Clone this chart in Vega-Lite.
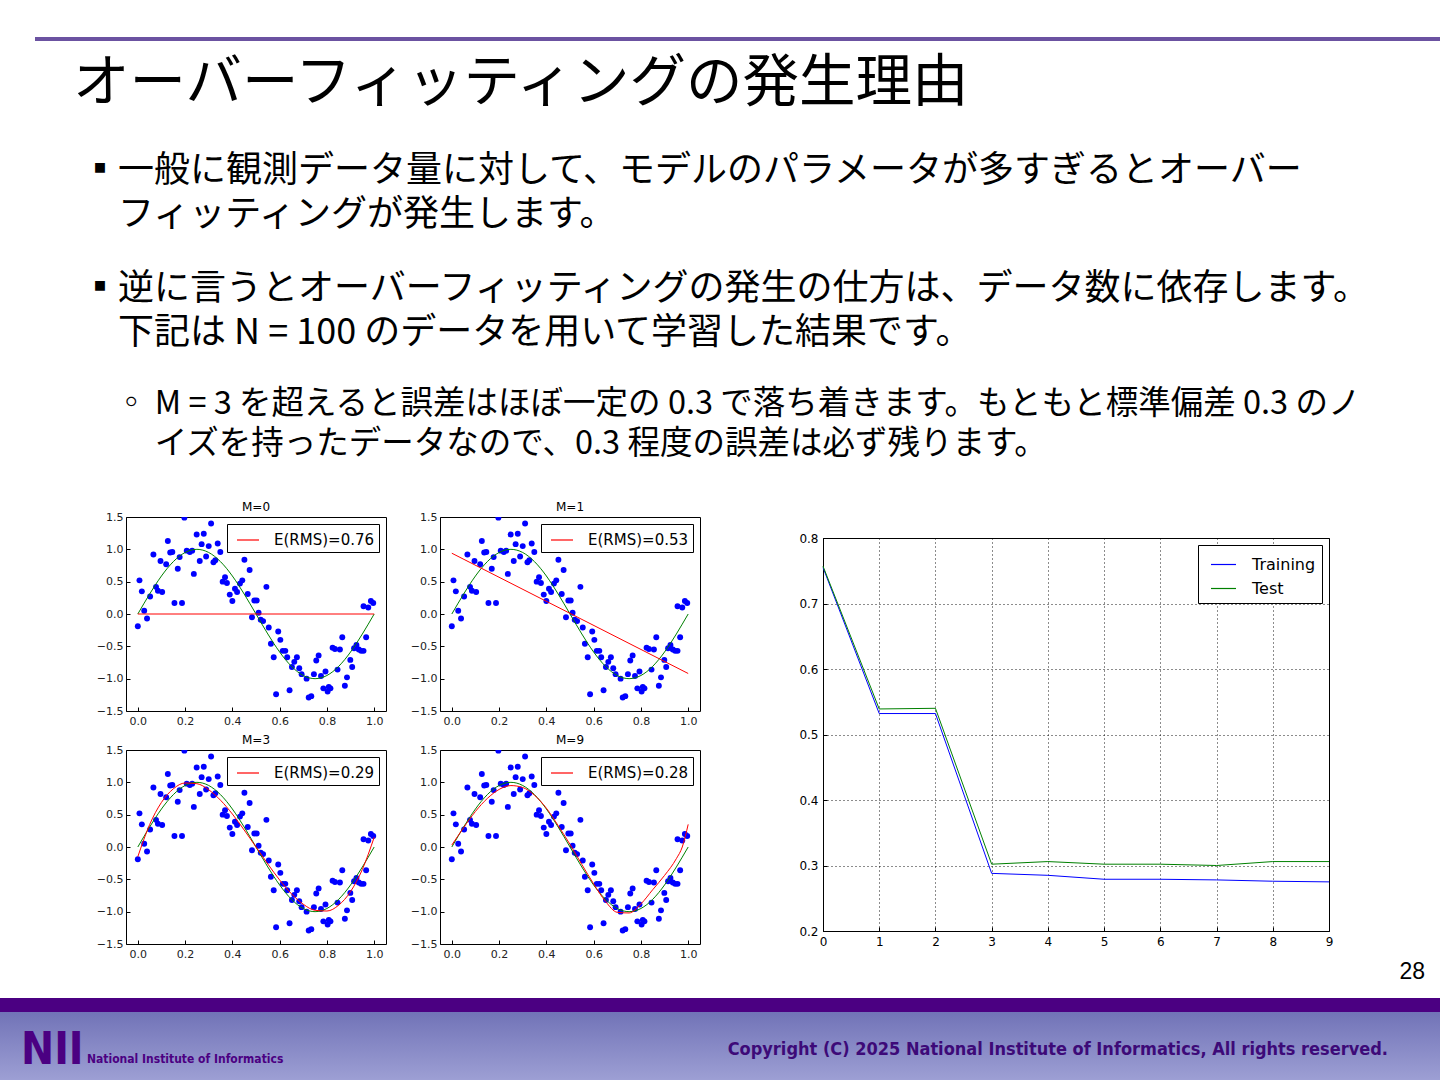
{
"$schema": "https://vega.github.io/schema/vega-lite/v6.json",
"padding": {"top": 37, "left": 0, "right": 0, "bottom": 0},
"background": "#FFFFFF",
"spacing": 0,
"config": {"view": {"stroke": null}, "font": "DejaVu Sans", "title": {"font": "Noto Sans CJK JP", "fontWeight": "normal", "color": "#000000", "anchor": "start"}},
"resolve": {"scale": {"color": "independent"}, "legend": {"color": "independent"}},
"datasets": {
"pts": [{"x":0.000,"y":-0.19},{"x":0.007,"y":0.52},{"x":0.017,"y":0.35},{"x":0.027,"y":0.05},{"x":0.039,"y":-0.07},{"x":0.052,"y":0.27},{"x":0.066,"y":0.92},{"x":0.077,"y":0.42},{"x":0.085,"y":0.36},{"x":0.096,"y":0.82},{"x":0.103,"y":0.34},{"x":0.120,"y":0.77},{"x":0.127,"y":1.13},{"x":0.137,"y":0.95},{"x":0.146,"y":0.96},{"x":0.155,"y":0.17},{"x":0.169,"y":0.70},{"x":0.177,"y":0.88},{"x":0.187,"y":0.17},{"x":0.197,"y":1.49},{"x":0.207,"y":0.98},{"x":0.220,"y":0.96},{"x":0.230,"y":0.98},{"x":0.237,"y":0.62},{"x":0.249,"y":1.23},{"x":0.262,"y":0.82},{"x":0.270,"y":1.08},{"x":0.279,"y":1.24},{"x":0.289,"y":0.89},{"x":0.300,"y":1.05},{"x":0.310,"y":1.40},{"x":0.320,"y":0.80},{"x":0.328,"y":0.83},{"x":0.338,"y":1.09},{"x":0.349,"y":0.96},{"x":0.359,"y":0.50},{"x":0.369,"y":0.57},{"x":0.377,"y":0.48},{"x":0.389,"y":0.30},{"x":0.400,"y":0.20},{"x":0.411,"y":0.39},{"x":0.420,"y":0.34},{"x":0.432,"y":0.47},{"x":0.442,"y":0.52},{"x":0.451,"y":0.84},{"x":0.465,"y":0.31},{"x":0.473,"y":0.68},{"x":0.483,"y":-0.05},{"x":0.493,"y":0.21},{"x":0.503,"y":0.21},{"x":0.511,"y":0.02},{"x":0.520,"y":-0.09},{"x":0.530,"y":-0.11},{"x":0.544,"y":0.42},{"x":0.554,"y":-0.21},{"x":0.563,"y":-0.46},{"x":0.575,"y":-0.67},{"x":0.585,"y":-1.24},{"x":0.594,"y":-0.27},{"x":0.603,"y":-0.40},{"x":0.613,"y":-0.57},{"x":0.624,"y":-0.57},{"x":0.632,"y":-0.67},{"x":0.642,"y":-1.18},{"x":0.652,"y":-0.82},{"x":0.662,"y":-0.74},{"x":0.673,"y":-0.67},{"x":0.683,"y":-0.84},{"x":0.693,"y":-0.93},{"x":0.714,"y":-1.00},{"x":0.723,"y":-1.29},{"x":0.734,"y":-1.27},{"x":0.745,"y":-0.93},{"x":0.755,"y":-0.72},{"x":0.765,"y":-0.64},{"x":0.775,"y":-0.96},{"x":0.785,"y":-1.15},{"x":0.794,"y":-0.89},{"x":0.803,"y":-1.20},{"x":0.808,"y":-1.13},{"x":0.815,"y":-1.15},{"x":0.824,"y":-0.52},{"x":0.834,"y":-0.54},{"x":0.845,"y":-0.86},{"x":0.855,"y":-0.55},{"x":0.865,"y":-0.36},{"x":0.876,"y":-1.11},{"x":0.885,"y":-0.98},{"x":0.899,"y":-0.71},{"x":0.907,"y":-0.82},{"x":0.915,"y":-0.53},{"x":0.925,"y":-0.48},{"x":0.935,"y":-0.55},{"x":0.945,"y":-0.57},{"x":0.955,"y":-0.57},{"x":0.966,"y":-0.36},{"x":0.955,"y":0.12},{"x":0.975,"y":0.10},{"x":0.986,"y":0.20},{"x":0.996,"y":0.17}],
"truth": [{"x":0,"y":0},{"x":0.025,"y":0.1564},{"x":0.05,"y":0.309},{"x":0.075,"y":0.454},{"x":0.1,"y":0.5878},{"x":0.125,"y":0.7071},{"x":0.15,"y":0.809},{"x":0.175,"y":0.891},{"x":0.2,"y":0.9511},{"x":0.225,"y":0.9877},{"x":0.25,"y":1},{"x":0.275,"y":0.9877},{"x":0.3,"y":0.9511},{"x":0.325,"y":0.891},{"x":0.35,"y":0.809},{"x":0.375,"y":0.7071},{"x":0.4,"y":0.5878},{"x":0.425,"y":0.454},{"x":0.45,"y":0.309},{"x":0.475,"y":0.1564},{"x":0.5,"y":0},{"x":0.525,"y":-0.1564},{"x":0.55,"y":-0.309},{"x":0.575,"y":-0.454},{"x":0.6,"y":-0.5878},{"x":0.625,"y":-0.7071},{"x":0.65,"y":-0.809},{"x":0.675,"y":-0.891},{"x":0.7,"y":-0.9511},{"x":0.725,"y":-0.9877},{"x":0.75,"y":-1},{"x":0.775,"y":-0.9877},{"x":0.8,"y":-0.9511},{"x":0.825,"y":-0.891},{"x":0.85,"y":-0.809},{"x":0.875,"y":-0.7071},{"x":0.9,"y":-0.5878},{"x":0.925,"y":-0.454},{"x":0.95,"y":-0.309},{"x":0.975,"y":-0.1564},{"x":1,"y":0}],
"fit0": [{"x":0,"y":0,"label":"E(RMS)=0.76"},{"x":1,"y":0,"label":"E(RMS)=0.76"}],
"fit1": [{"x":0,"y":0.94,"label":"E(RMS)=0.53"},{"x":1,"y":-0.92,"label":"E(RMS)=0.53"}],
"fit3": [{"x":0,"y":-0.15,"label":"E(RMS)=0.29"},{"x":0.05,"y":0.346,"label":"E(RMS)=0.29"},{"x":0.1,"y":0.69,"label":"E(RMS)=0.29"},{"x":0.15,"y":0.899,"label":"E(RMS)=0.29"},{"x":0.2,"y":0.99,"label":"E(RMS)=0.29"},{"x":0.25,"y":0.979,"label":"E(RMS)=0.29"},{"x":0.3,"y":0.885,"label":"E(RMS)=0.29"},{"x":0.35,"y":0.723,"label":"E(RMS)=0.29"},{"x":0.4,"y":0.51,"label":"E(RMS)=0.29"},{"x":0.45,"y":0.263,"label":"E(RMS)=0.29"},{"x":0.5,"y":0,"label":"E(RMS)=0.29"},{"x":0.55,"y":-0.263,"label":"E(RMS)=0.29"},{"x":0.6,"y":-0.51,"label":"E(RMS)=0.29"},{"x":0.65,"y":-0.723,"label":"E(RMS)=0.29"},{"x":0.7,"y":-0.885,"label":"E(RMS)=0.29"},{"x":0.75,"y":-0.979,"label":"E(RMS)=0.29"},{"x":0.8,"y":-0.99,"label":"E(RMS)=0.29"},{"x":0.85,"y":-0.899,"label":"E(RMS)=0.29"},{"x":0.9,"y":-0.69,"label":"E(RMS)=0.29"},{"x":0.95,"y":-0.346,"label":"E(RMS)=0.29"},{"x":1,"y":0.15,"label":"E(RMS)=0.29"}],
"fit9": [{"x":0,"y":0.03,"label":"E(RMS)=0.28"},{"x":0.05,"y":0.3,"label":"E(RMS)=0.28"},{"x":0.1,"y":0.55,"label":"E(RMS)=0.28"},{"x":0.15,"y":0.75,"label":"E(RMS)=0.28"},{"x":0.2,"y":0.89,"label":"E(RMS)=0.28"},{"x":0.25,"y":0.95,"label":"E(RMS)=0.28"},{"x":0.3,"y":0.92,"label":"E(RMS)=0.28"},{"x":0.35,"y":0.8,"label":"E(RMS)=0.28"},{"x":0.4,"y":0.6,"label":"E(RMS)=0.28"},{"x":0.45,"y":0.33,"label":"E(RMS)=0.28"},{"x":0.5,"y":0.04,"label":"E(RMS)=0.28"},{"x":0.55,"y":-0.27,"label":"E(RMS)=0.28"},{"x":0.6,"y":-0.57,"label":"E(RMS)=0.28"},{"x":0.65,"y":-0.84,"label":"E(RMS)=0.28"},{"x":0.7,"y":-1.01,"label":"E(RMS)=0.28"},{"x":0.75,"y":-1.02,"label":"E(RMS)=0.28"},{"x":0.8,"y":-0.88,"label":"E(RMS)=0.28"},{"x":0.85,"y":-0.66,"label":"E(RMS)=0.28"},{"x":0.9,"y":-0.44,"label":"E(RMS)=0.28"},{"x":0.95,"y":-0.18,"label":"E(RMS)=0.28"},{"x":0.975,"y":0.0,"label":"E(RMS)=0.28"},{"x":1,"y":0.35,"label":"E(RMS)=0.28"}],
"err": [{"M":0,"rms":0.755,"set":"Training"},{"M":1,"rms":0.532,"set":"Training"},{"M":2,"rms":0.532,"set":"Training"},{"M":3,"rms":0.288,"set":"Training"},{"M":4,"rms":0.285,"set":"Training"},{"M":5,"rms":0.279,"set":"Training"},{"M":6,"rms":0.279,"set":"Training"},{"M":7,"rms":0.278,"set":"Training"},{"M":8,"rms":0.276,"set":"Training"},{"M":9,"rms":0.275,"set":"Training"},{"M":0,"rms":0.757,"set":"Test"},{"M":1,"rms":0.539,"set":"Test"},{"M":2,"rms":0.540,"set":"Test"},{"M":3,"rms":0.302,"set":"Test"},{"M":4,"rms":0.306,"set":"Test"},{"M":5,"rms":0.302,"set":"Test"},{"M":6,"rms":0.302,"set":"Test"},{"M":7,"rms":0.300,"set":"Test"},{"M":8,"rms":0.306,"set":"Test"},{"M":9,"rms":0.306,"set":"Test"}]
},
"vconcat": [
{"hconcat": [
  {"width": 35, "height": 18, "data": {"values": [{}]}, "mark": {"type": "rect", "opacity": 0}, "encoding": {}},
  {"width": 1405, "height": 4, "data": {"values": [{}]}, "mark": {"type": "rect", "color": "#6B52A1"}, "encoding": {}}
], "spacing": 0},
{"title": {"text": "オーバーフィッティングの発生理由", "fontSize": 56.5, "dx": 73, "offset": 41},
 "resolve": {"scale": {"color": "independent"}, "legend": {"color": "independent"}},
 "spacing": 0,
 "vconcat": [
 {"title": {"text": ["▪一般に観測データ量に対して、モデルのパラメータが多すぎるとオーバー", "\u200b\u3000フィッティングが発生します。"], "fontSize": 36, "lineHeight": 44, "dx": 82, "offset": 37},
  "resolve": {"scale": {"color": "independent"}, "legend": {"color": "independent"}},
  "spacing": 0,
  "vconcat": [
  {"title": {"text": ["▪逆に言うとオーバーフィッティングの発生の仕方は、データ数に依存します。", "\u200b\u3000下記は N = 100 のデータを用いて学習した結果です。"], "fontSize": 36, "lineHeight": 44, "dx": 82, "offset": 36},
   "resolve": {"scale": {"color": "independent"}, "legend": {"color": "independent"}},
   "spacing": 0,
   "vconcat": [
   {"title": {"text": ["◦\u00a0M = 3 を超えると誤差はほぼ一定の 0.3 で落ち着きます。もともと標準偏差 0.3 のノ", "\u200b\u3000\u00a0イズを持ったデータなので、0.3 程度の誤差は必ず残ります。"], "fontSize": 32.5, "lineHeight": 40, "dx": 115, "offset": 40},
    "resolve": {"scale": {"color": "independent"}, "legend": {"color": "independent"}},
    "spacing": 0,
    "hconcat": [
     {"width": 95, "height": 1, "data": {"values": [{}]}, "mark": {"type": "rect", "opacity": 0}, "encoding": {}},
     {"spacing": 6,
      "resolve": {"scale": {"color": "independent"}, "legend": {"color": "independent"}},
      "vconcat": [
      {"spacing": 22, "resolve": {"scale": {"color": "independent"}, "legend": {"color": "independent"}},
       "hconcat": [
       {"width": 260, "height": 194, "view": {"stroke": "#000000", "strokeWidth": 1},
        "title": {"text": "M=0", "font": "DejaVu Sans", "fontSize": 12, "anchor": "middle", "offset": -3},
        "encoding": {
         "x": {"field": "x", "type": "quantitative", "scale": {"domain": [-0.05, 1.05], "nice": false, "zero": false}, "axis": {"values": [0, 0.2, 0.4, 0.6, 0.8, 1], "format": ".1f", "title": null, "grid": false, "domain": false, "tickColor": "#000000", "tickSize": -4, "labelFontSize": 11, "labelColor": "#222222", "labelPadding": 8.5, "labelFlush": false, "labelOverlap": false}},
         "y": {"field": "y", "type": "quantitative", "scale": {"domain": [-1.5, 1.5], "nice": false, "zero": false}, "axis": {"values": [-1.5, -1, -0.5, 0, 0.5, 1, 1.5], "format": ".1f", "title": null, "grid": false, "domain": false, "tickColor": "#000000", "tickSize": -4, "labelFontSize": 11, "labelColor": "#222222", "labelPadding": 7, "labelFlush": false, "labelOverlap": false}}},
        "layer": [
         {"data": {"name": "pts"}, "mark": {"type": "circle", "color": "#0000FF", "opacity": 1, "size": 35, "clip": true}},
         {"data": {"name": "truth"}, "mark": {"type": "line", "color": "#008000", "strokeWidth": 1, "interpolate": "monotone"}},
         {"data": {"name": "fit0"}, "mark": {"type": "line", "strokeWidth": 1}, "encoding": {"color": {"field": "label", "type": "nominal", "scale": {"range": ["#FF0000"]}, "legend": {"title": null, "orient": "top-right", "offset": 7, "symbolType": "stroke", "symbolSize": 484, "symbolStrokeWidth": 1.2, "symbolStrokeColor": "#FF0000", "symbolOffset": 5, "labelFontSize": 15, "labelColor": "#000000", "labelOffset": 14, "strokeColor": "#000000", "fillColor": "#FFFFFF", "padding": 4, "cornerRadius": 0}}}}
        ]},
       {"width": 260, "height": 194, "view": {"stroke": "#000000", "strokeWidth": 1},
        "title": {"text": "M=1", "font": "DejaVu Sans", "fontSize": 12, "anchor": "middle", "offset": -3},
        "encoding": {
         "x": {"field": "x", "type": "quantitative", "scale": {"domain": [-0.05, 1.05], "nice": false, "zero": false}, "axis": {"values": [0, 0.2, 0.4, 0.6, 0.8, 1], "format": ".1f", "title": null, "grid": false, "domain": false, "tickColor": "#000000", "tickSize": -4, "labelFontSize": 11, "labelColor": "#222222", "labelPadding": 8.5, "labelFlush": false, "labelOverlap": false}},
         "y": {"field": "y", "type": "quantitative", "scale": {"domain": [-1.5, 1.5], "nice": false, "zero": false}, "axis": {"values": [-1.5, -1, -0.5, 0, 0.5, 1, 1.5], "format": ".1f", "title": null, "grid": false, "domain": false, "tickColor": "#000000", "tickSize": -4, "labelFontSize": 11, "labelColor": "#222222", "labelPadding": 7, "labelFlush": false, "labelOverlap": false}}},
        "layer": [
         {"data": {"name": "pts"}, "mark": {"type": "circle", "color": "#0000FF", "opacity": 1, "size": 35, "clip": true}},
         {"data": {"name": "truth"}, "mark": {"type": "line", "color": "#008000", "strokeWidth": 1, "interpolate": "monotone"}},
         {"data": {"name": "fit1"}, "mark": {"type": "line", "strokeWidth": 1}, "encoding": {"color": {"field": "label", "type": "nominal", "scale": {"range": ["#FF0000"]}, "legend": {"title": null, "orient": "top-right", "offset": 7, "symbolType": "stroke", "symbolSize": 484, "symbolStrokeWidth": 1.2, "symbolStrokeColor": "#FF0000", "symbolOffset": 5, "labelFontSize": 15, "labelColor": "#000000", "labelOffset": 14, "strokeColor": "#000000", "fillColor": "#FFFFFF", "padding": 4, "cornerRadius": 0}}}}
        ]}
       ]},
      {"spacing": 22, "resolve": {"scale": {"color": "independent"}, "legend": {"color": "independent"}},
       "hconcat": [
       {"width": 260, "height": 194, "view": {"stroke": "#000000", "strokeWidth": 1},
        "title": {"text": "M=3", "font": "DejaVu Sans", "fontSize": 12, "anchor": "middle", "offset": -3},
        "encoding": {
         "x": {"field": "x", "type": "quantitative", "scale": {"domain": [-0.05, 1.05], "nice": false, "zero": false}, "axis": {"values": [0, 0.2, 0.4, 0.6, 0.8, 1], "format": ".1f", "title": null, "grid": false, "domain": false, "tickColor": "#000000", "tickSize": -4, "labelFontSize": 11, "labelColor": "#222222", "labelPadding": 8.5, "labelFlush": false, "labelOverlap": false}},
         "y": {"field": "y", "type": "quantitative", "scale": {"domain": [-1.5, 1.5], "nice": false, "zero": false}, "axis": {"values": [-1.5, -1, -0.5, 0, 0.5, 1, 1.5], "format": ".1f", "title": null, "grid": false, "domain": false, "tickColor": "#000000", "tickSize": -4, "labelFontSize": 11, "labelColor": "#222222", "labelPadding": 7, "labelFlush": false, "labelOverlap": false}}},
        "layer": [
         {"data": {"name": "pts"}, "mark": {"type": "circle", "color": "#0000FF", "opacity": 1, "size": 35, "clip": true}},
         {"data": {"name": "truth"}, "mark": {"type": "line", "color": "#008000", "strokeWidth": 1, "interpolate": "monotone"}},
         {"data": {"name": "fit3"}, "mark": {"type": "line", "strokeWidth": 1, "interpolate": "monotone"}, "encoding": {"color": {"field": "label", "type": "nominal", "scale": {"range": ["#FF0000"]}, "legend": {"title": null, "orient": "top-right", "offset": 7, "symbolType": "stroke", "symbolSize": 484, "symbolStrokeWidth": 1.2, "symbolStrokeColor": "#FF0000", "symbolOffset": 5, "labelFontSize": 15, "labelColor": "#000000", "labelOffset": 14, "strokeColor": "#000000", "fillColor": "#FFFFFF", "padding": 4, "cornerRadius": 0}}}}
        ]},
       {"width": 260, "height": 194, "view": {"stroke": "#000000", "strokeWidth": 1},
        "title": {"text": "M=9", "font": "DejaVu Sans", "fontSize": 12, "anchor": "middle", "offset": -3},
        "encoding": {
         "x": {"field": "x", "type": "quantitative", "scale": {"domain": [-0.05, 1.05], "nice": false, "zero": false}, "axis": {"values": [0, 0.2, 0.4, 0.6, 0.8, 1], "format": ".1f", "title": null, "grid": false, "domain": false, "tickColor": "#000000", "tickSize": -4, "labelFontSize": 11, "labelColor": "#222222", "labelPadding": 8.5, "labelFlush": false, "labelOverlap": false}},
         "y": {"field": "y", "type": "quantitative", "scale": {"domain": [-1.5, 1.5], "nice": false, "zero": false}, "axis": {"values": [-1.5, -1, -0.5, 0, 0.5, 1, 1.5], "format": ".1f", "title": null, "grid": false, "domain": false, "tickColor": "#000000", "tickSize": -4, "labelFontSize": 11, "labelColor": "#222222", "labelPadding": 7, "labelFlush": false, "labelOverlap": false}}},
        "layer": [
         {"data": {"name": "pts"}, "mark": {"type": "circle", "color": "#0000FF", "opacity": 1, "size": 35, "clip": true}},
         {"data": {"name": "truth"}, "mark": {"type": "line", "color": "#008000", "strokeWidth": 1, "interpolate": "monotone"}},
         {"data": {"name": "fit9"}, "mark": {"type": "line", "strokeWidth": 1, "interpolate": "monotone"}, "encoding": {"color": {"field": "label", "type": "nominal", "scale": {"range": ["#FF0000"]}, "legend": {"title": null, "orient": "top-right", "offset": 7, "symbolType": "stroke", "symbolSize": 484, "symbolStrokeWidth": 1.2, "symbolStrokeColor": "#FF0000", "symbolOffset": 5, "labelFontSize": 15, "labelColor": "#000000", "labelOffset": 14, "strokeColor": "#000000", "fillColor": "#FFFFFF", "padding": 4, "cornerRadius": 0}}}}
        ]}
       ]}
      ]},
     {"width": 97, "height": 1, "data": {"values": [{}]}, "mark": {"type": "rect", "opacity": 0}, "encoding": {}},
     {"spacing": 0, "resolve": {"scale": {"color": "independent"}, "legend": {"color": "independent"}},
      "vconcat": [
      {"width": 1, "height": 14, "data": {"values": [{}]}, "mark": {"type": "rect", "opacity": 0}, "encoding": {}},
      {"width": 506, "height": 393, "view": {"stroke": "#000000", "strokeWidth": 1},
       "data": {"name": "err"},
       "mark": {"type": "line", "strokeWidth": 1},
       "encoding": {
        "x": {"field": "M", "type": "quantitative", "scale": {"domain": [0, 9], "nice": false, "zero": false}, "axis": {"values": [0,1,2,3,4,5,6,7,8,9], "format": "d", "title": null, "grid": true, "gridColor": "#000000", "gridDash": [1, 3], "gridOpacity": 0.9, "domain": false, "tickColor": "#000000", "tickSize": -4, "labelFontSize": 12, "labelColor": "#000000", "labelPadding": 9, "labelFlush": false, "labelOverlap": false}},
        "y": {"field": "rms", "type": "quantitative", "scale": {"domain": [0.2, 0.8], "nice": false, "zero": false}, "axis": {"values": [0.2,0.3,0.4,0.5,0.6,0.7,0.8], "format": ".1f", "title": null, "grid": true, "gridColor": "#000000", "gridDash": [1, 3], "gridOpacity": 0.9, "domain": false, "tickColor": "#000000", "tickSize": -4, "labelFontSize": 12, "labelColor": "#000000", "labelPadding": 9, "labelFlush": false, "labelOverlap": false}},
        "color": {"field": "set", "type": "nominal", "scale": {"domain": ["Training", "Test"], "range": ["#0000FF", "#008000"]}, "legend": {"title": null, "orient": "top-right", "offset": 7, "symbolType": "stroke", "symbolSize": 625, "symbolStrokeWidth": 1.2, "symbolOffset": 6, "labelFontSize": 16, "labelColor": "#000000", "labelOffset": 15, "strokeColor": "#000000", "fillColor": "#FFFFFF", "padding": 6, "rowPadding": 2, "cornerRadius": 0}}
       }}
      ]}
    ]}
   ]}
  ]}
 ]},
{"spacing": 0,
 "vconcat": [
 {"width": 1, "height": 1, "data": {"values": [{}]}, "mark": {"type": "rect", "opacity": 0}, "encoding": {}},
 {"width": 1440, "height": 14, "data": {"values": [{}]}, "mark": {"type": "rect", "color": "#4B0082"}, "encoding": {},
  "title": {"text": "28", "font": "Liberation Sans", "fontSize": 23, "anchor": "end", "dx": -15, "offset": 14}},
 {"spacing": 0,
  "hconcat": [
  {"width": 86, "height": 68, "data": {"values": [{}]}, "mark": {"type": "rect", "color": {"gradient": "linear", "x1": 0, "y1": 0, "x2": 0, "y2": 1, "stops": [{"offset": 0, "color": "#7173B7"}, {"offset": 1, "color": "#9D9FD4"}]}}, "encoding": {},
   "title": {"text": "NII", "font": "DejaVu Sans Condensed", "fontWeight": "bold", "fontSize": 44, "color": "#4B0082", "anchor": "start", "dx": 21, "offset": -61}},
  {"width": 300, "height": 68, "data": {"values": [{}]}, "mark": {"type": "rect", "color": {"gradient": "linear", "x1": 0, "y1": 0, "x2": 0, "y2": 1, "stops": [{"offset": 0, "color": "#7173B7"}, {"offset": 1, "color": "#9D9FD4"}]}}, "encoding": {},
   "title": {"text": "National Institute of Informatics", "font": "DejaVu Sans Condensed", "fontWeight": "bold", "fontSize": 12, "color": "#4B0082", "anchor": "start", "dx": 1, "offset": -54}},
  {"width": 1054, "height": 68, "data": {"values": [{}]}, "mark": {"type": "rect", "color": {"gradient": "linear", "x1": 0, "y1": 0, "x2": 0, "y2": 1, "stops": [{"offset": 0, "color": "#7173B7"}, {"offset": 1, "color": "#9D9FD4"}]}}, "encoding": {},
   "title": {"text": "Copyright (C) 2025 National Institute of Informatics, All rights reserved.", "font": "DejaVu Sans Condensed", "fontWeight": "bold", "fontSize": 18, "color": "#3D0A78", "anchor": "end", "dx": -52, "offset": -47}}
  ]}
 ]}
]
}
